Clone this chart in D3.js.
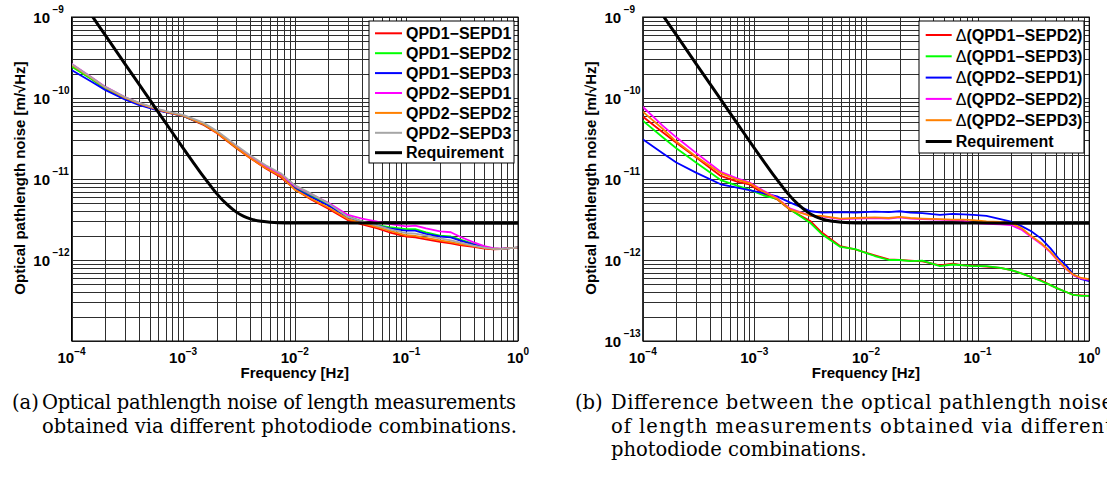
<!DOCTYPE html>
<html>
<head>
<meta charset="utf-8">
<script src="https://cdn.jsdelivr.net/npm/d3@7"></script>
<style>
  body { margin: 0; background: #fff; }
  text { font-family: "Liberation Sans", Arial, sans-serif; }
  .caption { font-family: "DejaVu Serif", "Liberation Serif", serif; }
</style>
</head>
<body>
<script>
// values in picometres (1e-12 m)
const PM = 1e-12;

// panel (a): optical pathlength noise per photodiode combination
const freqA = [1e-4, 1.5e-4, 2e-4, 3e-4, 4e-4, 6e-4, 8e-4, 1e-3, 1.5e-3, 2e-3, 3e-3, 4e-3, 5.5e-3, 7.5e-3,
               1e-2, 1.4e-2, 2e-2, 3e-2, 4e-2, 5.5e-2, 7e-2, 0.1, 0.12, 0.15, 0.2, 0.25, 0.3, 0.4, 0.5, 0.6, 0.7, 0.85, 1];
const qpd1Sepd1 = [250, 175, 132, 100, 85, 71, 64, 60, 47, 37, 24, 18, 13.5, 10.5, 7.5, 5.6, 4.3, 3.1, 2.75, 2.45, 2.2,
                   1.95, 1.9, 1.8, 1.68, 1.6, 1.53, 1.45, 1.38, 1.35, 1.36, 1.4, 1.42];
const qpd1Sepd2 = [245, 172, 131, 99, 84, 71, 64.5, 60, 48, 38, 24.5, 18.5, 14, 11, 7.8, 6.2, 4.9, 3.45, 3.0, 2.7, 2.55,
                   2.4, 2.4, 2.2, 2.0, 1.95, 1.8, 1.58, 1.45, 1.39, 1.37, 1.4, 1.42];
const qpd1Sepd3 = [222, 160, 126, 96, 82, 70, 64, 60, 48, 38.5, 25, 18.5, 14, 11, 7.6, 6.0, 4.7, 3.35, 2.95, 2.65, 2.45,
                   2.3, 2.3, 2.1, 1.95, 1.9, 1.75, 1.55, 1.43, 1.38, 1.37, 1.4, 1.42];
const qpd2Sepd1 = [265, 182, 138, 103, 87, 72, 65, 61, 49, 38, 25, 19, 14.2, 11.4, 8.2, 6.5, 5.1, 3.6, 3.25, 2.97, 2.8,
                   2.6, 2.65, 2.45, 2.25, 2.2, 1.95, 1.65, 1.48, 1.4, 1.38, 1.4, 1.42];
const qpd2Sepd2 = [258, 178, 135, 101, 86, 71.5, 64.5, 60.5, 48, 37.5, 24.5, 18.2, 13.7, 10.9, 7.4, 5.7, 4.45, 3.2, 2.85,
                   2.55, 2.3, 2.02, 1.98, 1.88, 1.75, 1.66, 1.58, 1.48, 1.4, 1.36, 1.36, 1.4, 1.42];
const qpd2Sepd3 = [262, 180, 137, 103, 87.5, 73, 66, 62, 50, 39.5, 26, 19.5, 14.8, 11.8, 8.4, 6.6, 5.0, 3.4, 3.0, 2.65,
                   2.4, 2.15, 2.12, 2.0, 1.85, 1.75, 1.65, 1.5, 1.42, 1.37, 1.36, 1.4, 1.42];
const namesA = ["QPD1−SEPD1", "QPD1−SEPD2", "QPD1−SEPD3", "QPD2−SEPD1", "QPD2−SEPD2", "QPD2−SEPD3"];

// panel (b): differences between combinations
const freqB = [1e-4, 1.5e-4, 2e-4, 3e-4, 5e-4, 7e-4, 9e-4, 1.2e-3, 1.6e-3, 2.1e-3, 3.2e-3, 4e-3, 5.9e-3, 8e-3, 1.2e-2,
               1.6e-2, 2e-2, 2.5e-2, 3.2e-2, 4.6e-2, 6e-2, 7.5e-2, 9.2e-2, 0.12, 0.16, 0.2, 0.25, 0.3, 0.37, 0.45, 0.53,
               0.63, 0.72, 0.85, 1];
const dQpd1Sepd2 = [59, 38, 28, 18.5, 10.9, 9.3, 8.6, 6.6, 5.6, 4.15, 3.0, 2.2, 1.48, 1.35, 1.14, 1.02, 1.0, 0.98, 0.96,
                    0.86, 0.9, 0.86, 0.85, 0.83, 0.8, 0.75, 0.68, 0.62, 0.56, 0.49, 0.44, 0.4, 0.37, 0.365, 0.36];
const dQpd1Sepd3 = [52.5, 33, 24, 16, 9.7, 8.3, 7.4, 6.3, 5.7, 4.2, 2.84, 2.1, 1.45, 1.36, 1.12, 1.0, 1.0, 0.97, 0.98,
                    0.84, 0.88, 0.86, 0.84, 0.84, 0.8, 0.75, 0.68, 0.62, 0.55, 0.49, 0.44, 0.4, 0.37, 0.36, 0.36];
const dQpd2Sepd1 = [31, 21, 16, 12, 8.6, 7.8, 7.3, 6.7, 6.1, 5.1, 4.0, 3.85, 3.9, 3.85, 3.95, 3.9, 4.0, 3.85, 3.8, 3.6,
                    3.7, 3.65, 3.6, 3.5, 3.2, 2.97, 2.6, 2.28, 1.85, 1.39, 1.05, 0.84, 0.66, 0.58, 0.55];
const dQpd2Sepd2 = [78, 46, 32.7, 21, 12.3, 10.2, 9.1, 7.2, 5.8, 4.3, 3.5, 3.45, 3.2, 3.25, 3.3, 3.25, 3.35, 3.25, 3.2,
                    3.15, 3.1, 3.05, 2.85, 2.8, 2.75, 2.7, 2.35, 1.95, 1.58, 1.24, 0.96, 0.76, 0.65, 0.59, 0.57];
const dQpd2Sepd3 = [68, 42, 29, 19, 11.8, 9.8, 8.9, 7.0, 5.7, 4.2, 3.5, 3.5, 3.25, 3.3, 3.35, 3.3, 3.4, 3.3, 3.25, 3.2,
                    3.15, 3.15, 3.1, 3.0, 2.95, 2.85, 2.45, 2.0, 1.62, 1.27, 0.98, 0.77, 0.66, 0.6, 0.58];
const namesB = ["Δ(QPD1−SEPD2)", "Δ(QPD1−SEPD3)", "Δ(QPD2−SEPD1)", "Δ(QPD2−SEPD2)", "Δ(QPD2−SEPD3)"];

// requirement curve (same in both panels)
const freqReq = [1e-4, 1.5e-4, 2e-4, 3e-4, 5e-4, 7e-4, 1e-3, 1.2e-3, 1.5e-3, 1.75e-3, 2e-3, 2.5e-3, 3e-3, 3.5e-3,
                 4e-3, 5e-3, 6e-3, 7e-3, 1e-2, 1];
const requirement = [2400, 1070, 600, 266, 96, 49, 24.1, 16.9, 11.0, 8.33, 6.6, 4.78, 3.9, 3.46, 3.22, 3.0, 2.93,
                     2.89, 2.86, 2.85];

// tick labels (powers of ten)
const xTickExps = [-4, -3, -2, -1, 0];
const yTickExpsA = [-12, -11, -10, -9];
const yTickExpsB = [-13, -12, -11, -10, -9];

const captionA = ["Optical pathlength noise of length measurements", "obtained via different photodiode combinations."];
const captionB = ["Difference between the optical pathlength noise", "of length measurements obtained via different",
                  "photodiode combinations."];

// layout
const width = 1107, height = 493;
const plotTop = 17, plotBottom = 341, plotW = 446.5;
const colorsA = ["#ff0000", "#00ff00", "#0000ff", "#ff00ff", "#ff8000", "#a6a6a6"];
const colorsB = ["#ff0000", "#00ff00", "#0000ff", "#ff00ff", "#ff8000"];
const gridColor = "#2e2e2e";

const svg = d3.select("body").append("svg")
    .attr("width", width)
    .attr("height", height);

function expText(e) {
  return e < 0 ? "−" + (-e) : String(e);
}

function drawPanel(p, idx) {
  let x = d3.scaleLog().domain([1e-4, 1]).range([p.left, p.left + plotW]);
  let y = d3.scaleLog().domain([1e-13, 1e-9]).range([plotBottom, plotTop]);
  let g = svg.append("g");

  // grid: every decade plus 2..9
  g.append("g")
    .attr("transform", "translate(0," + plotBottom + ")")
    .call(d3.axisBottom(x).tickValues(x.ticks()).tickSize(-(plotBottom - plotTop)).tickFormat(""))
    .call(a => a.select(".domain").remove())
    .selectAll("line").attr("stroke", gridColor).attr("shape-rendering", "crispEdges");
  g.append("g")
    .attr("transform", "translate(" + p.left + ",0)")
    .call(d3.axisLeft(y).tickValues(y.ticks()).tickSize(-plotW).tickFormat(""))
    .call(a => a.select(".domain").remove())
    .selectAll("line").attr("stroke", gridColor).attr("shape-rendering", "crispEdges");

  // x tick labels
  g.selectAll(".xlab").data(xTickExps).join("text")
    .attr("class", "xlab")
    .attr("x", e => x(Math.pow(10, e)))
    .attr("y", 363)
    .attr("text-anchor", "middle")
    .attr("font-size", 15)
    .attr("font-weight", "bold")
    .each(function(e) {
      let t = d3.select(this);
      t.append("tspan").text("10");
      t.append("tspan").attr("dy", -8.5).attr("font-size", 10).text(expText(e));
    });

  // y tick labels: "10" right-aligned, exponent after it
  let ylab = g.selectAll(".ylab").data(p.yTicks).join("g").attr("class", "ylab");
  ylab.append("text")
    .attr("x", p.left - 21.5)
    .attr("y", e => y(Math.pow(10, e)) + 5.5)
    .attr("text-anchor", "end")
    .attr("font-size", 15)
    .attr("font-weight", "bold")
    .text("10");
  ylab.append("text")
    .attr("x", p.left - 19)
    .attr("y", e => y(Math.pow(10, e)) - 4)
    .attr("font-size", 10)
    .attr("font-weight", "bold")
    .text(e => expText(e));

  // axis titles
  g.append("text")
    .attr("transform", "translate(" + (p.left - 46.5) + "," + ((plotTop + plotBottom) / 2 - 1) + ") rotate(-90)")
    .attr("text-anchor", "middle")
    .attr("font-size", 15)
    .attr("font-weight", "bold")
    .text("Optical pathlength noise [m/√Hz]");
  g.append("text")
    .attr("x", p.left + plotW / 2)
    .attr("y", 378)
    .attr("text-anchor", "middle")
    .attr("font-size", 15)
    .attr("font-weight", "bold")
    .text("Frequency [Hz]");

  // data
  svg.append("clipPath").attr("id", "clip" + idx)
    .append("rect")
    .attr("x", p.left).attr("y", plotTop)
    .attr("width", plotW).attr("height", plotBottom - plotTop);
  let plot = g.append("g").attr("clip-path", "url(#clip" + idx + ")");
  let line = d3.line().x(d => x(d[0])).y(d => y(d[1]));

  p.values.forEach(function(vals, i) {
    plot.append("path")
      .datum(p.freq.map((f, j) => [f, vals[j] * PM]))
      .attr("fill", "none")
      .attr("stroke", p.colors[i])
      .attr("stroke-width", 1.8)
      .attr("stroke-linejoin", "round")
      .attr("d", line);
  });

  plot.append("path")
    .datum(freqReq.map((f, j) => [f, requirement[j] * PM]))
    .attr("fill", "none")
    .attr("stroke", "#000")
    .attr("stroke-width", 3)
    .attr("d", line.curve(d3.curveMonotoneX));

  // axes box
  g.append("rect")
    .attr("x", p.left).attr("y", plotTop)
    .attr("width", plotW).attr("height", plotBottom - plotTop)
    .attr("fill", "none")
    .attr("stroke", "#000");

  // legend
  let L = p.legend;
  let entries = p.names.map((n, i) => ({ name: n, color: p.colors[i], w: 2 }));
  entries.push({ name: "Requirement", color: "#000", w: 3 });
  let lg = g.append("g");
  lg.append("rect")
    .attr("x", L.x).attr("y", L.y)
    .attr("width", L.w).attr("height", L.h)
    .attr("fill", "#fff")
    .attr("stroke", "#000");
  entries.forEach(function(en, i) {
    let cy = L.row0 + i * L.rowH;
    lg.append("line")
      .attr("x1", L.x0).attr("x2", L.x1)
      .attr("y1", cy).attr("y2", cy)
      .attr("stroke", en.color)
      .attr("stroke-width", en.w);
    let t = lg.append("text")
      .attr("x", L.tx)
      .attr("y", cy + 5.7)
      .attr("font-size", 16)
      .attr("font-weight", "bold");
    if (en.name.charAt(0) === "Δ") {
      t.append("tspan").attr("font-weight", "normal").text("Δ");
      t.append("tspan").text(en.name.slice(1));
    } else {
      t.text(en.name);
    }
  });

  // caption
  let cap = svg.append("g").attr("class", "caption");
  cap.append("text")
    .attr("class", "caption")
    .attr("x", p.capLabelX).attr("y", 409)
    .attr("font-size", 19.5)
    .text(p.capLabel);
  p.caption.forEach(function(s, i) {
    let t = cap.append("text")
      .attr("class", "caption")
      .attr("x", p.capX)
      .attr("y", 409 + i * 23.5)
      .attr("font-size", 19.5)
      .text(s);
    if (p.capJustify[i]) t.attr("textLength", p.capJustify[i]);
  });
}

drawPanel({
  left: 71.5,
  freq: freqA,
  values: [qpd1Sepd1, qpd1Sepd2, qpd1Sepd3, qpd2Sepd1, qpd2Sepd2, qpd2Sepd3],
  names: namesA,
  colors: colorsA,
  yTicks: yTickExpsA,
  legend: { x: 369, y: 21, w: 145, h: 142, row0: 33.3, rowH: 19.9, x0: 375, x1: 402, tx: 406 },
  capLabel: "(a)", capLabelX: 12, capX: 42,
  caption: captionA, capJustify: [474, 0]
}, 0);

drawPanel({
  left: 642.7,
  freq: freqB,
  values: [dQpd1Sepd2, dQpd1Sepd3, dQpd2Sepd1, dQpd2Sepd2, dQpd2Sepd3],
  names: namesB,
  colors: colorsB,
  yTicks: yTickExpsB,
  legend: { x: 919, y: 21, w: 165, h: 132, row0: 35, rowH: 21.3, x0: 925.7, x1: 951.7, tx: 955.7 },
  capLabel: "(b)", capLabelX: 575, capX: 611,
  caption: captionB, capJustify: [502, 502, 0]
}, 1);
</script>
</body>
</html>
